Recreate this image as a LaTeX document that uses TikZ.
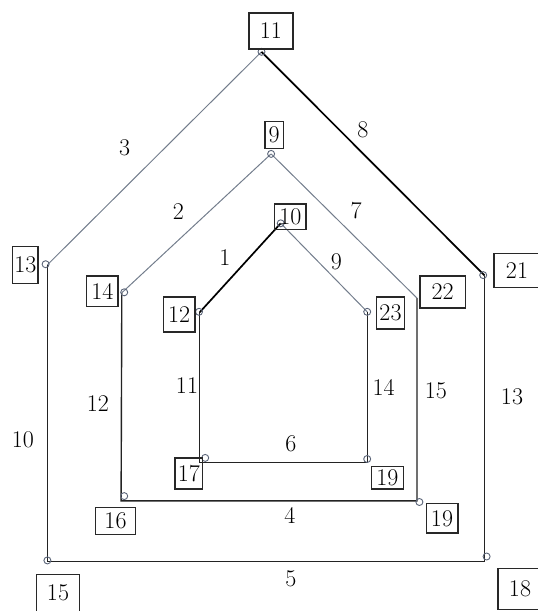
\documentclass[tikz,border=0pt]{standalone}
\definecolor{edgegray}{RGB}{115,125,140}
\definecolor{framec}{RGB}{35,35,35}
\definecolor{boxc}{RGB}{40,40,40}
\definecolor{ptc}{RGB}{90,100,120}
\newcommand{\labfont}{\fontsize{24}{28}\selectfont}
\tikzset{
  lbl/.style={draw=boxc, line width=1.4pt, inner sep=0pt, font=\labfont, text=black},
  ptmark/.style={circle, draw=ptc, line width=0.9pt, minimum size=7pt, inner sep=0pt},
  elab/.style={font=\labfont, inner sep=0pt, text=black},
  grayedge/.style={draw=edgegray, line width=1pt},
  blackedge/.style={draw=black, line width=1.7pt},
  frameedge/.style={draw=framec, line width=1.4pt, line join=miter},
}
\begin{document}
\begin{tikzpicture}[x=1pt,y=-1pt]
\useasboundingbox (0,0) rectangle (538,611);
% corners
\coordinate (o13) at (47.4,264.8);
\coordinate (o11) at (261.5,51.8);
\coordinate (o21) at (484.6,275.5);
\coordinate (o18) at (484.6,561.2);
\coordinate (o15) at (47.4,561.2);
\coordinate (m14) at (121.8,292.8);
\coordinate (m9)  at (271.1,153.9);
\coordinate (m22) at (417,298.1);
\coordinate (m19) at (417,500.8);
\coordinate (m16) at (121.1,500.8);
\coordinate (i12) at (199.7,312.3);
\coordinate (i10) at (280.7,223.3);
\coordinate (i23) at (367.2,311.8);
\coordinate (i19) at (367.2,462.6);
\coordinate (i17) at (199.7,462.6);
% frame lines
\draw[frameedge] (o21) -- (o18) -- (o15) -- (o13);
\draw[frameedge] (m22) -- (m19) -- (m16) -- (m14);
\draw[frameedge] (i23) -- (i19) -- (i17) -- (i12);
% diagonals
\draw[grayedge] (o13) -- (o11);
\draw[blackedge] (o11) -- (o21);
\draw[grayedge] (m14) -- (m9);
\draw[grayedge] (m9) -- (m22);
\draw[blackedge] (i12) -- (i10);
\draw[grayedge] (i10) -- (i23);
% point marks
\node[ptmark] (p11) at (261.5,51.8) {};
\node[ptmark] (p9) at (271.1,153.9) {};
\node[ptmark] (p10) at (280.7,223.3) {};
\node[ptmark] (p13) at (45.6,264.2) {};
\node[ptmark] (p14) at (124.2,292.3) {};
\node[ptmark] (p12) at (199,311.8) {};
\node[ptmark] (p23) at (367.2,311.8) {};
\node[ptmark] (p21) at (483.2,275.1) {};
\node[ptmark] (p17) at (205.2,457.9) {};
\node[ptmark] (p19a) at (367.2,459) {};
\node[ptmark] (p16) at (124.2,496.1) {};
\node[ptmark] (p19b) at (419.4,502) {};
\node[ptmark] (p15) at (47.4,560.4) {};
\node[ptmark] (p18) at (486.6,556.5) {};
% vertex label boxes
\node[lbl, minimum width=44pt, minimum height=36pt] (b11) at (270.8,30.8) {11};
\node[lbl, minimum width=18.5pt, minimum height=27pt] (b9) at (274.2,134.8) {9};
\node[lbl, minimum width=31.6pt, minimum height=25.4pt] (b10) at (290.3,216.5) {10};
\node[lbl, minimum width=25.4pt, minimum height=37.4pt] (b13) at (25.4,265) {13};
\node[lbl, minimum width=31.5pt, minimum height=30.4pt] (b14) at (102.3,291.1) {14};
\node[lbl, minimum width=31.5pt, minimum height=35pt] (b12) at (179.1,314.5) {12};
\node[lbl, minimum width=27.5pt, minimum height=32.3pt] (b23) at (390.5,313) {23};
\node[lbl, minimum width=45.3pt, minimum height=32pt] (b22) at (442.7,292) {22};
\node[lbl, minimum width=46pt, minimum height=34.3pt] (b21) at (517,270.5) {21};
\node[lbl, minimum width=27.5pt, minimum height=31.2pt] (b17) at (188.8,473.5) {17};
\node[lbl, minimum width=32pt, minimum height=22.6pt] (b19a) at (387.3,477.8) {19};
\node[lbl, minimum width=40pt, minimum height=27.3pt] (b16) at (115.5,521) {16};
\node[lbl, minimum width=31.6pt, minimum height=29.6pt] (b19b) at (442,518.3) {19};
\node[lbl, minimum width=43.2pt, minimum height=37pt] (b15) at (58,593) {15};
\node[lbl, minimum width=44pt, minimum height=41pt] (b18) at (520,589) {18};
% edge labels
\node[elab] (e3) at (124.6,147.3) {3};
\node[elab] (e8) at (363,129.8) {8};
\node[elab] (e2) at (178.4,211.6) {2};
\node[elab] (e7) at (356.2,210.4) {7};
\node[elab] (e1) at (224.8,258) {1};
\node[elab] (e9) at (336.3,261.9) {9};
\node[elab] (e11) at (187,385.8) {11};
\node[elab] (e14) at (383.7,387.8) {14};
\node[elab] (e15) at (435.8,390.9) {15};
\node[elab] (e13) at (512,396.7) {13};
\node[elab] (e12) at (97.8,403.4) {12};
\node[elab] (e10) at (23,439.6) {10};
\node[elab] (e6) at (291,443.5) {6};
\node[elab] (e4) at (290,515.2) {4};
\node[elab] (e5) at (291,578.7) {5};
\end{tikzpicture}
\end{document}
